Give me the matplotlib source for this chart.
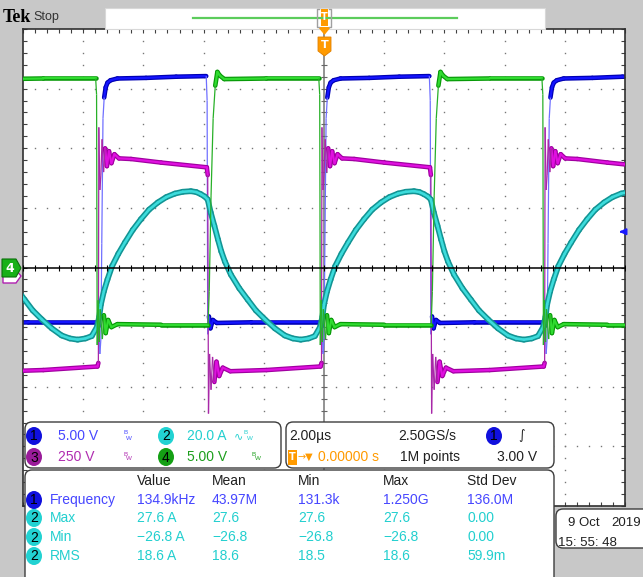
import numpy as np
import matplotlib
matplotlib.use("Agg")
import matplotlib.pyplot as plt
from matplotlib.collections import LineCollection
from matplotlib.patches import FancyBboxPatch, Rectangle, Polygon, Ellipse

W, H = 643, 577
FONT = ["Liberation Sans", "DejaVu Sans"]

# acquisition settings
time_per_div = 2.0          # us/div
freq_khz = 134.9
period = 1e3 / freq_khz     # us
trig_level = 3.00           # V on ch1
ch1_scale = 5.00            # V/div

# one switching period, time in us after the ch1 rising edge, value in divisions
ch1_t = [0.00, 0.03, 0.07, 0.11, 0.16, 0.22, 0.32, 0.55, 1.50, 2.50, 3.50, 3.53, 3.55,
         3.59, 3.64, 3.72, 3.85, 5.00, 7.30, 7.35, 7.38, 7.40]
ch1_v = [-1.20, 0.40, 2.50, 2.85, 3.02, 3.10, 3.14, 3.17, 3.18, 3.20, 3.21, 2.80, -1.12,
         -0.82, -1.02, -0.88, -0.93, -0.92, -0.92, -0.98, -1.45, -1.30]

ch2_t = [0.00, 0.10, 0.22, 0.37, 0.58, 0.80, 1.06, 1.33, 1.60, 1.89, 2.17, 2.46, 2.72,
         2.99, 3.17, 3.32, 3.45, 3.55, 3.65, 3.77, 3.89, 4.00, 4.12, 4.32, 4.60, 4.88,
         5.15, 5.45, 5.78, 6.11, 6.38, 6.64, 6.90, 7.11, 7.28, 7.36]
ch2_amps = [-12.4, -8.0, -4.0, 0.4, 4.6, 8.4, 12.6, 16.2, 19.4, 21.8, 23.6, 24.8, 25.4,
            25.6, 25.3, 24.6, 23.8, 22.8, 18.4, 14.0, 9.4, 5.4, 2.0, -2.4, -7.0, -10.8,
            -14.4, -17.4, -20.4, -22.8, -23.8, -24.2, -23.8, -23.0, -20.0, -16.5]
ch2_scale = 20.0  # A/div

ch3_t = [0.00, 0.04, 0.09, 0.14, 0.20, 0.27, 0.35, 0.45, 0.60, 1.00, 2.00, 3.52, 3.55,
         3.575, 3.61, 3.66, 3.71, 3.77, 3.84, 3.93, 4.05, 4.30, 5.50, 7.30, 7.33, 7.345, 7.38]
ch3_v = [1.55, 2.15, 1.60, 2.00, 1.70, 1.95, 1.75, 1.90, 1.83, 1.82, 1.76, 1.68, 1.55,
         -2.45, -1.45, -2.05, -1.50, -1.92, -1.58, -1.82, -1.68, -1.74, -1.72, -1.66, -1.60, 2.35, 1.30]

ch4_t = [0.00, 0.05, 0.10, 0.16, 0.24, 0.35, 0.55, 2.00, 3.56, 3.60, 3.66, 3.73, 3.80,
         3.87, 3.95, 4.10, 5.50, 7.24, 7.27, 7.29, 7.32, 7.36, 7.39]
ch4_v = [-0.85, -1.20, -0.80, -1.10, -0.88, -1.00, -0.95, -0.96, -0.96, -0.40, 1.20, 2.50, 3.05,
         3.28, 3.22, 3.16, 3.17, 3.17, 2.90, -1.30, -0.55, -1.25, -0.70]

# readouts
chan_labels = ["5.00 V", "20.0 A", "250 V", "5.00 V"]
meas_header = ["Value", "Mean", "Min", "Max", "Std Dev"]
meas_chan = ["1", "2", "2", "2"]
meas_name = ["Frequency", "Max", "Min", "RMS"]
meas_vals = [["134.9kHz", "43.97M", "131.3k", "1.250G", "136.0M"],
             ["27.6 A", "27.6", "27.6", "27.6", "0.00"],
             ["\u221226.8 A", "\u221226.8", "\u221226.8", "\u221226.8", "0.00"],
             ["18.6 A", "18.6", "18.5", "18.6", "59.9m"]]

BG = "#c8c8c8"
C1, C2, C3, C4 = "#4646ff", "#22cfcf", "#b02cb0", "#1c9e1c"
B1, B2, B3, B4 = "#1010dd", "#22d2d2", "#9a1c9a", "#14a014"

fig = plt.figure(figsize=(W / 100, H / 100), dpi=100, facecolor=BG)

# ---- graticule ----
ax = fig.add_axes([23 / W, 1 - 506 / H, 602 / W, 477 / H], facecolor="white")
ax.set_zorder(1)
xmax = 5 * time_per_div
ax.set_xlim(-xmax, xmax)
ax.set_ylim(-4, 4)
minor_x = np.arange(-xmax, xmax + 0.01, time_per_div / 5)
minor_y = np.arange(-4, 4.01, 0.2)
ax.set_xticks(minor_x)
ax.set_yticks(minor_y)
ax.tick_params(direction="in", length=3, width=0.8, color="#404040",
               top=True, right=True, labelbottom=False, labelleft=False)
for s in ax.spines.values():
    s.set_color("#303030")
    s.set_linewidth(1.2)

for gx in np.arange(-4, 5) * time_per_div:
    if gx != 0:
        ax.plot(np.full_like(minor_y, gx), minor_y, ls="none", marker="s", ms=1.0,
                color="#777777", mec="none", zorder=0.5)
for gy in [-3, -2, -1, 1, 2, 3]:
    ax.plot(minor_x, np.full_like(minor_x, gy), ls="none", marker="s", ms=1.0,
            color="#777777", mec="none", zorder=0.5)
ax.axvline(0, color="#8a8a8a", lw=1.3, zorder=0.6)
ax.plot(np.zeros_like(minor_y), minor_y, ls="none", marker="_", ms=5, mew=0.8,
        color="#666666", zorder=0.6)


def tile(t, v):
    t = np.asarray(t, float)
    v = np.asarray(v, float)
    ks = range(-2, 3)
    return np.concatenate([t + k * period for k in ks]), np.tile(v, len(ks))


def trace(t, v, dark, bright, thin, band=3.3, core=1.6, z=2):
    tt, vv = tile(t, v)
    pts = np.column_stack([tt, vv])
    segs = np.stack([pts[:-1], pts[1:]], axis=1)
    steep = np.abs(np.diff(vv)) / np.diff(tt) > 6
    ax.add_collection(LineCollection(segs[~steep], colors=dark, linewidths=band,
                                     capstyle="round", zorder=z))
    ax.add_collection(LineCollection(segs[~steep], colors=bright, linewidths=core,
                                     capstyle="round", zorder=z + 0.1))
    ax.add_collection(LineCollection(segs[steep], colors=thin, linewidths=0.9,
                                     zorder=z + 0.2))


trace(ch1_t, ch1_v, "#0000b4", "#1414ff", "#7070ff", z=2)
trace(ch3_t, ch3_v, "#a000a0", "#e010e0", "#a828a8", z=3)
trace(ch2_t, np.array(ch2_amps) / ch2_scale, "#129494", "#3cdcdc", "#20b0b0",
      band=4.2, core=1.9, z=4)
trace(ch4_t, ch4_v, "#089a08", "#30dc30", "#28b028", z=5)

# centre horizontal line with ticks
ax.axhline(0, color="black", lw=1.1, zorder=6)
ax.plot(minor_x, np.zeros_like(minor_x), ls="none", marker="|", ms=5, mew=0.8,
        color="black", zorder=6)

# trigger level arrow on the right edge
ax.annotate("", xy=(xmax - 0.28, trig_level / ch1_scale), xytext=(xmax - 0.02, trig_level / ch1_scale),
            arrowprops=dict(arrowstyle="-|>", color="#1a1aff", lw=1.4, mutation_scale=9),
            zorder=7)

# ---- screen furniture, in pixel coordinates ----
ui = fig.add_axes([0, 0, 1, 1], facecolor="none")
ui.set_zorder(5)
ui.set_xlim(0, W)
ui.set_ylim(H, 0)
ui.axis("off")

ui.text(3, 17, "Tek", fontsize=13, fontweight="bold", family=["Liberation Serif", "DejaVu Serif"],
        va="center", ha="left", color="black")
ui.text(33, 17, "Stop", fontsize=9, family=FONT, va="center", ha="left", color="#333333")

# record view strip
ui.add_patch(Rectangle((105, 8), 440, 21, fc="white", ec="#d8d8d8", lw=0.8))
ui.plot([193, 457], [18, 18], color="#5ccc5c", lw=1.6)
ui.plot([319, 317, 317, 319], [9, 9, 27, 27], color="#a0a0a0", lw=1)
ui.plot([329, 331, 331, 329], [9, 9, 27, 27], color="#a0a0a0", lw=1)
ui.add_patch(Rectangle((321, 9), 7, 17, fc="#ff9a00", ec="none"))
ui.text(324.5, 17.5, "T", fontsize=7, color="white", ha="center", va="center", fontweight="bold")
ui.add_patch(Polygon([(318, 27), (331, 27), (324.5, 35)], fc="#ff9a00", ec="none"))
ui.add_patch(Polygon([(318, 37), (331, 37), (331, 51), (324.5, 56), (318, 51)],
                     fc="#ff9a00", ec="#e08000", lw=0.6))
ui.text(324.5, 45, "T", fontsize=8, color="white", ha="center", va="center", fontweight="bold")

# ground markers on the left
ui.add_patch(Polygon([(3, 270), (16, 270), (21, 276), (16, 283), (3, 283)],
                     fc="white", ec="#b020b0", lw=1))
ui.add_patch(Polygon([(2, 259), (16, 259), (21, 268), (16, 277), (2, 277)],
                     fc="#18b018", ec="#0a700a", lw=0.8))
ui.text(10, 268.5, "4", fontsize=9, color="white", ha="center", va="center", fontweight="bold")


def box(x, y, w, h):
    ui.add_patch(FancyBboxPatch((x, y), w, h, boxstyle="round,pad=0,rounding_size=7",
                                fc="white", ec="#3c3c3c", lw=1))


def badge(x, y, num, color):
    ui.add_patch(Ellipse((x, y), 16, 18, fc=color, ec="none"))
    ui.text(x, y + 0.5, num, fontsize=10, family=FONT, color="black", ha="center", va="center")


def bw(x, y, color):
    ui.text(x, y - 3, "B", fontsize=4.5, family=FONT, color=color, ha="left", va="center")
    ui.text(x + 2.5, y + 2, "W", fontsize=4.5, family=FONT, color=color, ha="left", va="center")


def txt(x, y, s, color="#202020", ha="left", size=10):
    ui.text(x, y, s, fontsize=size, family=FONT, color=color, ha=ha, va="center")


box(25, 422, 256, 46)
box(286, 422, 268, 46)
box(25, 470, 529, 125)
box(556, 509, 100, 39)

# channel box
r1, r2 = 436, 457
badge(34, r1, "1", B1); txt(58, r1, chan_labels[0], C1); bw(123, r1, C1)
badge(166, r1, "2", B2); txt(187, r1, chan_labels[1], C2)
ui.text(234, r1, "\u223f", fontsize=8, color=C2, ha="left", va="center"); bw(244, r1, C2)
badge(34, r2, "3", B3); txt(58, r2, chan_labels[2], C3); bw(123, r2, C3)
badge(166, r2, "4", B4); txt(187, r2, chan_labels[3], C4); bw(252, r2, C4)

# timebase / trigger box
txt(289, r1, "2.00\u00b5s")
txt(398, r1, "2.50GS/s")
badge(494, r1, "1", B1)
ui.text(518, r1, "\u222b", fontsize=9, color="#202020", ha="left", va="center")
ui.add_patch(Rectangle((288, r2 - 7), 9, 15, fc="#ff9a00", ec="none"))
ui.text(292.5, r2 + 0.5, "T", fontsize=7, color="white", ha="center", va="center", fontweight="bold")
ui.text(298, r2, "\u2192\u25bc", fontsize=7, color="#ff9a00", ha="left", va="center",
        family=["DejaVu Sans"])
txt(318, r2, "0.00000 s", "#ff9a00")
txt(400, r2, "1M points")
txt(497, r2, "3.00 V")

# measurement table
col_x = [137, 212, 298, 383, 467]
row_y = [500, 518, 537, 556]
for cx, head in zip(col_x, meas_header):
    txt(cx, 481, head)
for ry, ch, name, vals in zip(row_y, meas_chan, meas_name, meas_vals):
    tc = C1 if ch == "1" else C2
    badge(34, ry, ch, B1 if ch == "1" else B2)
    txt(50, ry, name, tc)
    for cx, v in zip(col_x, vals):
        txt(cx, ry, v, tc)

# date box
txt(568, 523, "9 Oct", size=9.5)
txt(641, 523, "2019", ha="right", size=9.5)
txt(558, 543, "15: 55: 48", size=9.5)

fig.savefig("out.png", dpi=100, facecolor=BG)
